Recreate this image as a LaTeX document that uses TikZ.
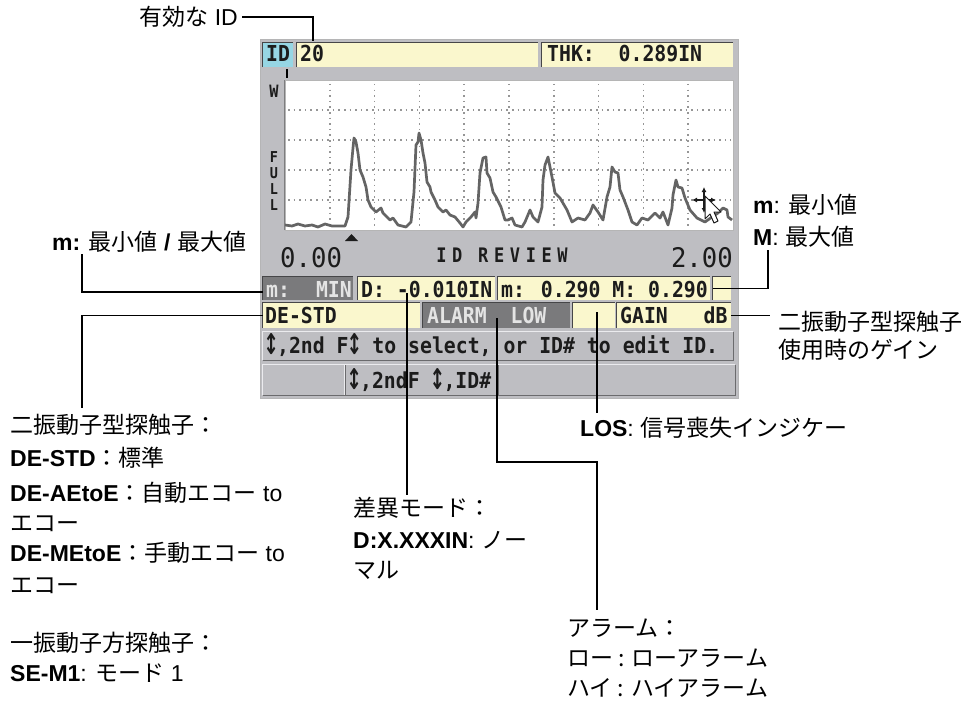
\documentclass[tikz,border=0pt]{standalone}
\usepackage{fontspec}
\usepackage{graphicx}
\setmainfont{Liberation Sans}
\newfontfamily\jp{Noto Sans CJK JP}
\newfontfamily\lcd{DejaVu Sans Mono}[FakeStretch=0.9]
\newfontfamily\lcdw{DejaVu Sans Mono}[FakeStretch=0.95]
\newfontfamily\lcdsp{DejaVu Sans Mono}[FakeStretch=0.85,LetterSpace=28]
\newfontfamily\arrfont{DejaVu Sans}
\usetikzlibrary{fit,calc,arrows.meta}
\definecolor{scrgray}{RGB}{190,190,194}
\definecolor{lcdyellow}{RGB}{250,247,205}
\definecolor{lcdcyan}{RGB}{150,214,228}
\definecolor{darkfield}{RGB}{122,122,124}
\definecolor{lcdink}{RGB}{28,28,28}
\definecolor{lightink}{RGB}{228,228,228}
\definecolor{wavegray}{RGB}{100,100,100}
\definecolor{griddot}{RGB}{150,150,150}
\definecolor{edgedark}{RGB}{70,70,72}
\definecolor{edgelight}{RGB}{235,235,238}
\newcommand\myinset[1]{\draw[line width=1.2pt,edgedark] (#1.south west) -- (#1.north west) -- (#1.north east);}
\newcommand\myraised[1]{\draw[line width=1.2pt,edgelight] (#1.south west) -- (#1.north west) -- (#1.north east);
  \draw[line width=1.4pt,edgedark!80] (#1.north east) -- (#1.south east) -- (#1.south west);}
\newcommand\updn{\makebox[11.9pt]{\raisebox{-1.5pt}{\scalebox{0.85}[1.3]{\arrfont\bfseries ↕}}}}
\begin{document}
\begin{tikzpicture}[x=1pt,y=-1pt,
  callout/.style={draw=black,line width=1.6pt},
  lbl/.style={anchor=base west,inner sep=0pt,font=\fontsize{23}{28}\selectfont,text=black},
  fld/.style={inner sep=0pt,fill=lcdyellow},
  dfld/.style={inner sep=0pt,fill=darkfield},
  rfld/.style={inner sep=0pt,fill=scrgray},
  lcdtxt/.style={anchor=base west,inner sep=0pt,font=\lcd\bfseries\fontsize{22}{22}\selectfont,text=lcdink},
  lcdlight/.style={lcdtxt,text=lightink},
  griddots/.style={griddot,line width=1.6pt,dash pattern=on 1.5pt off 4.1pt}
]
\useasboundingbox (0,0) rectangle (975,701);
\fill[white] (0,0) rectangle (975,701);

% screen
\node[inner sep=0pt,fill=scrgray,draw=edgedark!40,line width=0.8pt,fit={(260,39) (738,398)}] (scr) {};

% top bar
\node[inner sep=0pt,fill=lcdcyan,fit={(263,43) (293,67)}] (idbox) {};
\node[fld,fit={(297,43) (538,67)}] (idval) {};
\node[fld,fit={(542,43) (733,67)}] (thk) {};
\myinset{idbox}\myinset{idval}\myinset{thk}
\node[lcdtxt,anchor=base] (idtxt) at (278,62) {ID};
\node[lcdtxt] (idnum) at (300,62) {20};
\node[lcdtxt] (thktxt) at (547,62) {THK:\ \ 0.289IN};
\draw[line width=2.5pt,black] (287,69) -- (287,78);

% plot
\node[inner sep=0pt,fill=white,draw=griddot!70,line width=0.8pt,fit={(285,80) (733,230)}] (plot) {};
\draw[edgedark!70,line width=1pt] (plot.south west) -- (plot.north west);
\foreach \gx in {329.8,374.6,419.4,464.2,509,553.8,598.6,643.4,688.2}
  \draw[griddots] (\gx,84) -- (\gx,228);
\foreach \gy in {110,140,170,200}
  \draw[griddots] (288,\gy) -- (731,\gy);
\begin{scope}
\clip (285,80) rectangle (733,230);
\draw[wavegray,line width=2.7pt,line join=round] (285,225) -- (292,226) -- (298,224) -- (305,226) -- (312,225) -- (318,227) -- (325,224) -- (332,226) -- (340,226) -- (345,226) -- (348,217) -- (351,170) -- (353,148) -- (354,138) -- (356,142) -- (358,153) -- (360,170) -- (363,177) -- (366,187) -- (368,200) -- (371,207) -- (376,212) -- (381,208) -- (383,213) -- (390,220) -- (393,218) -- (398,225) -- (406,227) -- (411,222) -- (414,192) -- (416,145) -- (418,142) -- (419,133) -- (421,140) -- (423,153) -- (425,163) -- (427,182) -- (430,187) -- (431,192) -- (435,200) -- (438,207) -- (443,212) -- (446,210) -- (450,215) -- (455,217) -- (460,223) -- (463,227) -- (466,222) -- (471,217) -- (475,212) -- (476,218) -- (478,203) -- (480,173) -- (483,158) -- (486,157) -- (487,173) -- (490,178) -- (493,192) -- (496,197) -- (501,207) -- (505,220) -- (508,220) -- (512,218) -- (515,225) -- (522,227) -- (525,222) -- (530,210) -- (533,217) -- (538,222) -- (542,207) -- (543,180) -- (545,165) -- (548,157) -- (550,167) -- (552,177) -- (555,193) -- (560,198) -- (567,210) -- (572,222) -- (578,218) -- (585,220) -- (590,213) -- (593,205) -- (598,212) -- (603,220) -- (607,197) -- (610,187) -- (612,167) -- (615,172) -- (618,173) -- (620,190) -- (623,197) -- (628,210) -- (632,222) -- (637,225) -- (642,218) -- (648,220) -- (655,213) -- (660,218) -- (663,212) -- (668,225) -- (672,208) -- (673,195) -- (676,180) -- (678,187) -- (682,188) -- (685,198) -- (690,210) -- (697,218) -- (705,222) -- (712,217) -- (718,213) -- (723,208) -- (727,210) -- (728,217) -- (732,220);
\end{scope}
% cursor
\draw[lcdink,line width=1.4pt,{Latex[length=5pt,width=5pt]}-{Latex[length=5pt,width=5pt]}] (692,200) -- (716,200);
\draw[lcdink,line width=1.4pt,{Latex[length=5pt,width=5pt]}-{Latex[length=5pt,width=5pt]}] (704,187) -- (704,213);
\draw[fill=white,draw=lcdink,line width=1pt,line join=round] (705,196) -- (705,219) -- (710,214) -- (714,223) -- (718,221) -- (714,212) -- (721,212) -- cycle;

% axis labels
\node[lcdtxt,anchor=base,font=\lcd\bfseries\fontsize{17}{17}\selectfont] (wlbl) at (274,97) {W};
\node[lcdtxt,anchor=base,font=\lcd\bfseries\fontsize{15}{15}\selectfont] (fullF) at (274,162) {F};
\node[lcdtxt,anchor=base,font=\lcd\bfseries\fontsize{15}{15}\selectfont] (fullU) at (274,178) {U};
\node[lcdtxt,anchor=base,font=\lcd\bfseries\fontsize{15}{15}\selectfont] (fullL1) at (274,194) {L};
\node[lcdtxt,anchor=base,font=\lcd\bfseries\fontsize{15}{15}\selectfont] (fullL2) at (274,210) {L};
\fill[lcdink] (345,241) -- (358,241) -- (351.5,234) -- cycle;
\node[lcdtxt,font=\lcdw\fontsize{27}{27}\selectfont] (zero) at (280,267) {0.00};
\node[lcdtxt,anchor=base east,font=\lcdw\fontsize{27}{27}\selectfont] (two) at (733,267) {2.00};
\node[lcdtxt,anchor=base,font=\lcdsp\bfseries\fontsize{20}{20}\selectfont] (review) at (502,262) {ID REVIEW};

% row 1
\node[dfld,fit={(263,277) (353,300)}] (minbox) {};
\node[fld,fit={(358,277) (495,300)}] (dbox) {};
\node[fld,fit={(498,277) (710,300)}] (mmbox) {};
\node[fld,fit={(713,277) (731,300)}] (smallbox) {};
\myinset{minbox}\myinset{dbox}\myinset{mmbox}\myinset{smallbox}
\node[lcdlight] (mintxt1) at (266,297) {m:};
\node[lcdlight,anchor=base east] (mintxt2) at (352,297) {MIN};
\node[lcdtxt] (dtxt) at (361,297) {D: -0.010IN};
\node[lcdtxt] (mmtxt) at (501,297) {m: 0.290 M: 0.290};

% row 2
\node[fld,fit={(263,303) (420,328)}] (destd) {};
\node[dfld,fit={(423,303) (570,328)}] (alarm) {};
\node[fld,fit={(573,303) (615,328)}] (los) {};
\node[fld,fit={(617,303) (731,328)}] (gain) {};
\myinset{destd}\myinset{alarm}\myinset{los}\myinset{gain}
\node[lcdtxt] (destdtxt) at (265,323) {DE-STD};
\node[lcdlight] (alarmtxt) at (427,323) {ALARM\ \ LOW};
\node[lcdtxt] (gaintxt) at (620,323) {GAIN\ \ \ dB};

% row 3 and 4
\node[rfld,fit={(263,332) (733,360)}] (help) {};
\node[rfld,fit={(263,365) (345,395)}] (b1) {};
\node[rfld,fit={(345,365) (498,395)}] (b2) {};
\node[rfld,fit={(498,365) (735,395)}] (b3) {};
\myraised{help}\myraised{b1}\myraised{b2}\myraised{b3}
\node[lcdtxt] (helptxt) at (265,353) {\updn,2nd F\updn{} to select, or ID\# to edit ID.};
\node[lcdtxt] (b2txt) at (348,388) {\updn,2ndF \updn,ID\#};

% callout texts
\node[lbl,anchor=base east] (tId) at (238,25.5) {{\jp 有効な} ID};
\node[lbl] (tMinMax) at (52,250.5) {\textbf{m:} {\jp 最小値} \textbf{/} {\jp 最大値}};
\node[lbl] (tm) at (753,213.5) {\textbf{m}: {\jp 最小値}};
\node[lbl] (tM) at (753,245.5) {\textbf{M}: {\jp 最大値}};
\node[lbl] (tGain1) at (778,330.5) {\jp 二振動子型探触子};
\node[lbl] (tGain2) at (778,358.5) {\jp 使用時のゲイン};
\node[lbl] (tLOS) at (580,436.5) {\textbf{LOS}: {\jp 信号喪失インジケー}};
\node[lbl] (de1) at (10,433.5) {\jp 二振動子型探触子：};
\node[lbl] (de2) at (10,466.5) {\textbf{DE-STD}{\jp ：標準}};
\node[lbl] (de3) at (10,501.5) {\textbf{DE-AEtoE}{\jp ：自動エコー} to};
\node[lbl] (de4) at (10,531.5) {\jp エコー};
\node[lbl] (de5) at (10,561.5) {\textbf{DE-MEtoE}{\jp ：手動エコー} to};
\node[lbl] (de6) at (10,593.5) {\jp エコー};
\node[lbl] (de7) at (10,651.5) {\jp 一振動子方探触子：};
\node[lbl] (de8) at (10,681.5) {\textbf{SE-M1}: {\jp モード} 1};
\node[lbl] (df1) at (353,516.5) {\jp 差異モード：};
\node[lbl] (df2) at (353,548.5) {\textbf{D:X.XXXIN}: {\jp ノー}};
\node[lbl] (df3) at (353,578.5) {\jp マル};
\node[lbl] (al1) at (567,636.5) {\jp アラーム：};
\node[lbl] (al2) at (567,666.5) {\jp ロー : ローアラーム};
\node[lbl] (al3) at (567,696.5) {\jp ハイ : ハイアラーム};

% callout end points
\coordinate (cId) at (313,41);
\coordinate (cMM) at (82,254);
\coordinate (cmM) at (768,250);
\coordinate (cG) at (770,315.5);
\coordinate (cDE) at (82,408);
\coordinate (dA) at (407,293);
\coordinate (dB) at (407,495);
\coordinate (aA) at (497,318);
\coordinate (aB) at (497,462);
\coordinate (aC) at (597,610);
\coordinate (lA) at (597,312);
\coordinate (lB) at (597,413);

\draw[callout] ([xshift=4pt]tId.east) -| (cId);
\draw[callout] (cMM) |- ([yshift=-3.5pt]minbox.west);
\draw[callout] (cmM) |- (smallbox.west);
\draw[callout] (gain.east) -- (cG);
\draw[callout] (destd.west) -| (cDE);
\draw[callout] (dA) -- (dB);
\draw[callout] (aA) -- (aB) -| (aC);
\draw[callout] (lA) -- (lB);
\end{tikzpicture}
\end{document}
